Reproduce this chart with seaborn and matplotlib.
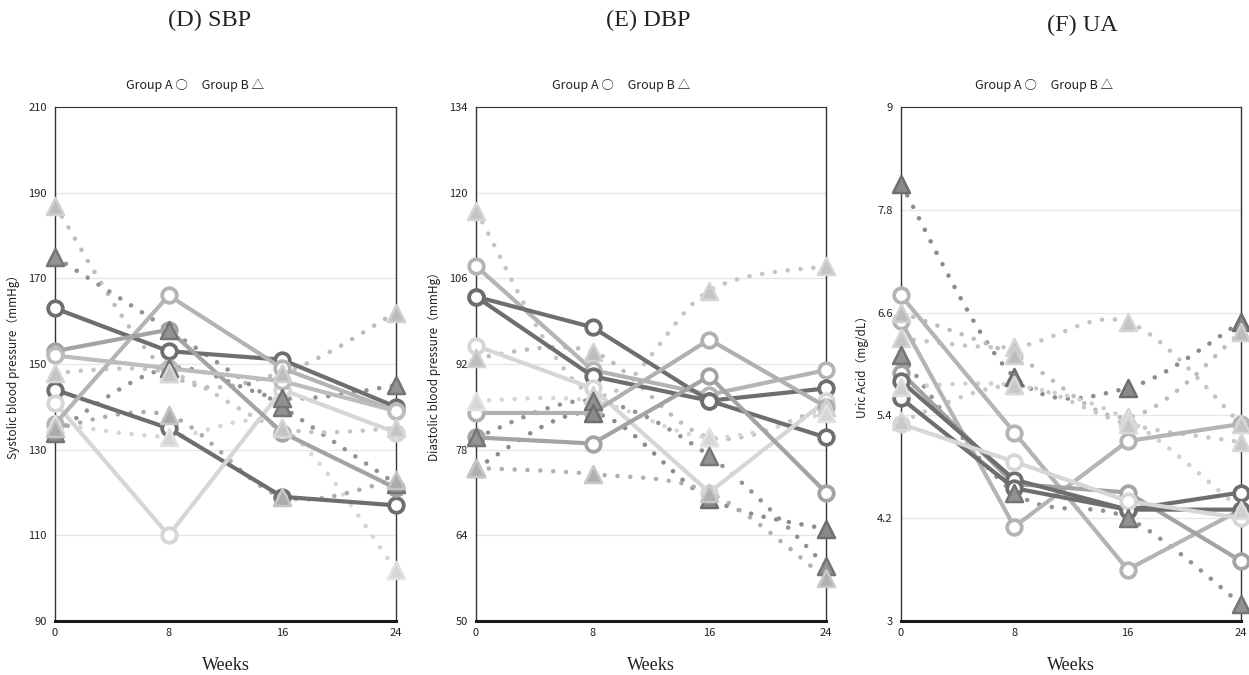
import numpy as np
import pandas as pd
import matplotlib
matplotlib.use("Agg")
import matplotlib.pyplot as plt
from matplotlib.path import Path
from matplotlib.patches import PathPatch
import matplotlib.colors as mcolors
import seaborn as sns

weeks = [0, 8, 16, 24]

# (D) SBP, mmHg
sbp_group_a = [
    [163, 153, 151, 140],
    [144, 135, 119, 117],
    [141, 110, 144, 134],
    [136, 166, 149, 139],
    [153, 158, 134, 121],
    [152, 149, 146, 139],
]
sbp_group_b = [
    [187, 148, 148, 162],
    [175, 158, 140, 122],
    [134, 149, 142, 145],
    [136, 133, 135, 102],
    [135, 138, 119, 123],
    [148, 148, 135, 135],
]

# (E) DBP, mmHg
dbp_group_a = [
    [108, 91, 87, 91],
    [103, 98, 86, 88],
    [103, 90, 86, 80],
    [95, 88, 71, 86],
    [84, 84, 96, 85],
    [80, 79, 90, 71],
]
dbp_group_b = [
    [117, 87, 104, 108],
    [93, 94, 80, 85],
    [86, 86, 80, 84],
    [80, 86, 77, 59],
    [75, 84, 70, 65],
    [75, 74, 71, 57],
]

# (F) UA, mg/dL
ua_group_a = [
    [6.8, 5.2, 3.6, 4.3],
    [6.5, 4.1, 5.1, 5.3],
    [5.9, 4.6, 4.5, 3.7],
    [5.8, 4.65, 4.3, 4.5],
    [5.6, 4.55, 4.3, 4.3],
    [5.3, 4.86, 4.4, 4.2],
]
ua_group_b = [
    [8.1, 5.85, 5.72, 6.49],
    [6.3, 6.2, 6.49, 5.3],
    [6.6, 6.1, 5.38, 6.37],
    [6.1, 4.5, 4.2, 3.2],
    [5.73, 5.75, 5.35, 4.3],
    [5.33, 5.75, 5.3, 5.09],
]

panel_titles = ["(D) SBP", "(E) DBP", "(F) UA"]
y_labels = ["Systolic blood pressure（mmHg）",
            "Diastolic blood pressure（mmHg）",
            "Uric Acid（mg/dL）"]
y_ticks = [[90, 110, 130, 150, 170, 190, 210],
           [50, 64, 78, 92, 106, 120, 134],
           [3, 4.2, 5.4, 6.6, 7.8, 9]]
y_tick_labels = [["90", "110", "130", "150", "170", "190", "210"],
                 ["50", "64", "78", "92", "106", "120", "134"],
                 ["3", "4.2", "5.4", "6.6", "7.8", "9"]]
legend_text = "Group A ○     Group B △"
x_label = "Weeks"

# grey shades per subject
colors_a = [
    ["#6e6e6e", "#6e6e6e", "#d6d6d6", "#b4b4b4", "#a3a3a3", "#bcbcbc"],
    ["#b4b4b4", "#6e6e6e", "#6e6e6e", "#d6d6d6", "#b0b0b0", "#a3a3a3"],
    ["#b4b4b4", "#b4b4b4", "#a3a3a3", "#6e6e6e", "#6e6e6e", "#d6d6d6"],
]
colors_b = [
    ["#bcbcbc", "#929292", "#929292", "#d6d6d6", "#ababab", "#c4c4c4"],
    ["#c4c4c4", "#bcbcbc", "#d6d6d6", "#929292", "#8a8a8a", "#b0b0b0"],
    ["#8a8a8a", "#c4c4c4", "#bcbcbc", "#929292", "#cfcfcf", "#c8c8c8"],
]

sns.set_theme(style="white")
plt.rcParams["font.family"] = ["Noto Sans CJK JP", "DejaVu Sans"]

fig = plt.figure(figsize=(12.49, 6.75), dpi=100)
axes_boxes = [
    (55 / 1249, 54 / 675, 341 / 1249, 514 / 675),
    (476 / 1249, 54 / 675, 350 / 1249, 514 / 675),
    (901 / 1249, 54 / 675, 340 / 1249, 514 / 675),
]
title_pos = [(210, 20), (648, 20), (1082, 25)]
legend_x = [0.41, 0.415, 0.42]


def shade(c, amount):
    rgb = np.array(mcolors.to_rgb(c))
    if amount > 0:
        rgb = rgb + (1 - rgb) * amount
    else:
        rgb = rgb * (1 + amount)
    return mcolors.to_hex(np.clip(rgb, 0, 1))


def smooth_path(xs, ys):
    """Cubic Bezier path through the points (Catmull-Rom tangents)."""
    pts = np.column_stack([xs, ys]).astype(float)
    n = len(pts)
    verts = [pts[0]]
    codes = [Path.MOVETO]
    for i in range(n - 1):
        p0 = pts[i - 1] if i > 0 else pts[i]
        p1 = pts[i]
        p2 = pts[i + 1]
        p3 = pts[i + 2] if i + 2 < n else pts[i + 1]
        c1 = p1 + (p2 - p0) / 6.0
        c2 = p2 - (p3 - p1) / 6.0
        verts += [c1, c2, p2]
        codes += [Path.CURVE4] * 3
    return Path(verts, codes)


panels = [
    (sbp_group_a, sbp_group_b),
    (dbp_group_a, dbp_group_b),
    (ua_group_a, ua_group_b),
]

for k, (grp_a, grp_b) in enumerate(panels):
    ax = fig.add_axes(axes_boxes[k])
    ymin, ymax = y_ticks[k][0], y_ticks[k][-1]
    ax.set_xlim(0, 24)
    ax.set_ylim(ymin, ymax)

    # group B: smoothed dotted curves with triangles
    for i, vals in enumerate(grp_b):
        c = colors_b[k][i]
        patch = PathPatch(smooth_path(weeks, vals), fill=False,
                          edgecolor=c, linewidth=3.3,
                          linestyle=(0, (0.01, 2.8)), capstyle="round",
                          zorder=2, clip_on=False)
        ax.add_patch(patch)

    # group A: solid lines with open circles
    for i, vals in enumerate(grp_a):
        c = colors_a[k][i]
        df = pd.DataFrame({"week": weeks, "value": vals})
        sns.lineplot(data=df, x="week", y="value", ax=ax, color=c,
                     linewidth=3.0, marker="o", markersize=10.5,
                     markerfacecolor="white", markeredgecolor=c,
                     markeredgewidth=2.7, zorder=3, clip_on=False,
                     legend=False)

    for i, vals in enumerate(grp_b):
        c = colors_b[k][i]
        edge = shade(c, -0.2) if mcolors.to_rgb(c)[0] < 0.62 else shade(c, 0.3)
        df = pd.DataFrame({"week": weeks, "value": vals})
        sns.scatterplot(data=df, x="week", y="value", ax=ax, marker="^",
                        s=150, color=c, edgecolor=edge, linewidth=1.8,
                        zorder=4, clip_on=False, legend=False)

    ax.set_yticks(y_ticks[k])
    ax.set_yticklabels(y_tick_labels[k])
    ax.set_xticks(weeks)
    ax.set_xticklabels([str(w) for w in weeks])
    ax.tick_params(axis="both", length=0, labelsize=8, colors="#222222")
    ax.tick_params(axis="y", pad=6)
    ax.tick_params(axis="x", pad=5)
    ax.grid(axis="y", color="#e6e6e6", linewidth=0.9)
    ax.set_axisbelow(True)

    for side in ["left", "right", "top"]:
        ax.spines[side].set_visible(True)
        ax.spines[side].set_color("#333333")
        ax.spines[side].set_linewidth(1.0)
    ax.spines["bottom"].set_color("#1a1a1a")
    ax.spines["bottom"].set_linewidth(2.2)
    ax.spines["top"].set_linewidth(0.8)

    ax.set_ylabel(y_labels[k], fontsize=8.5, color="#222222", labelpad=6)
    ax.set_xlabel(x_label, fontsize=13, family="Liberation Serif",
                  color="#222222", labelpad=14)

    ax.text(legend_x[k], 1.043, legend_text, transform=ax.transAxes,
            ha="center", va="center", fontsize=9, color="#222222")

    tx, ty = title_pos[k]
    fig.text(tx / 1249, 1 - ty / 675, panel_titles[k], ha="center",
             va="center", fontsize=17.5, family="Liberation Serif",
             color="#222222")

fig.savefig("out.png", dpi=100, facecolor="white")
